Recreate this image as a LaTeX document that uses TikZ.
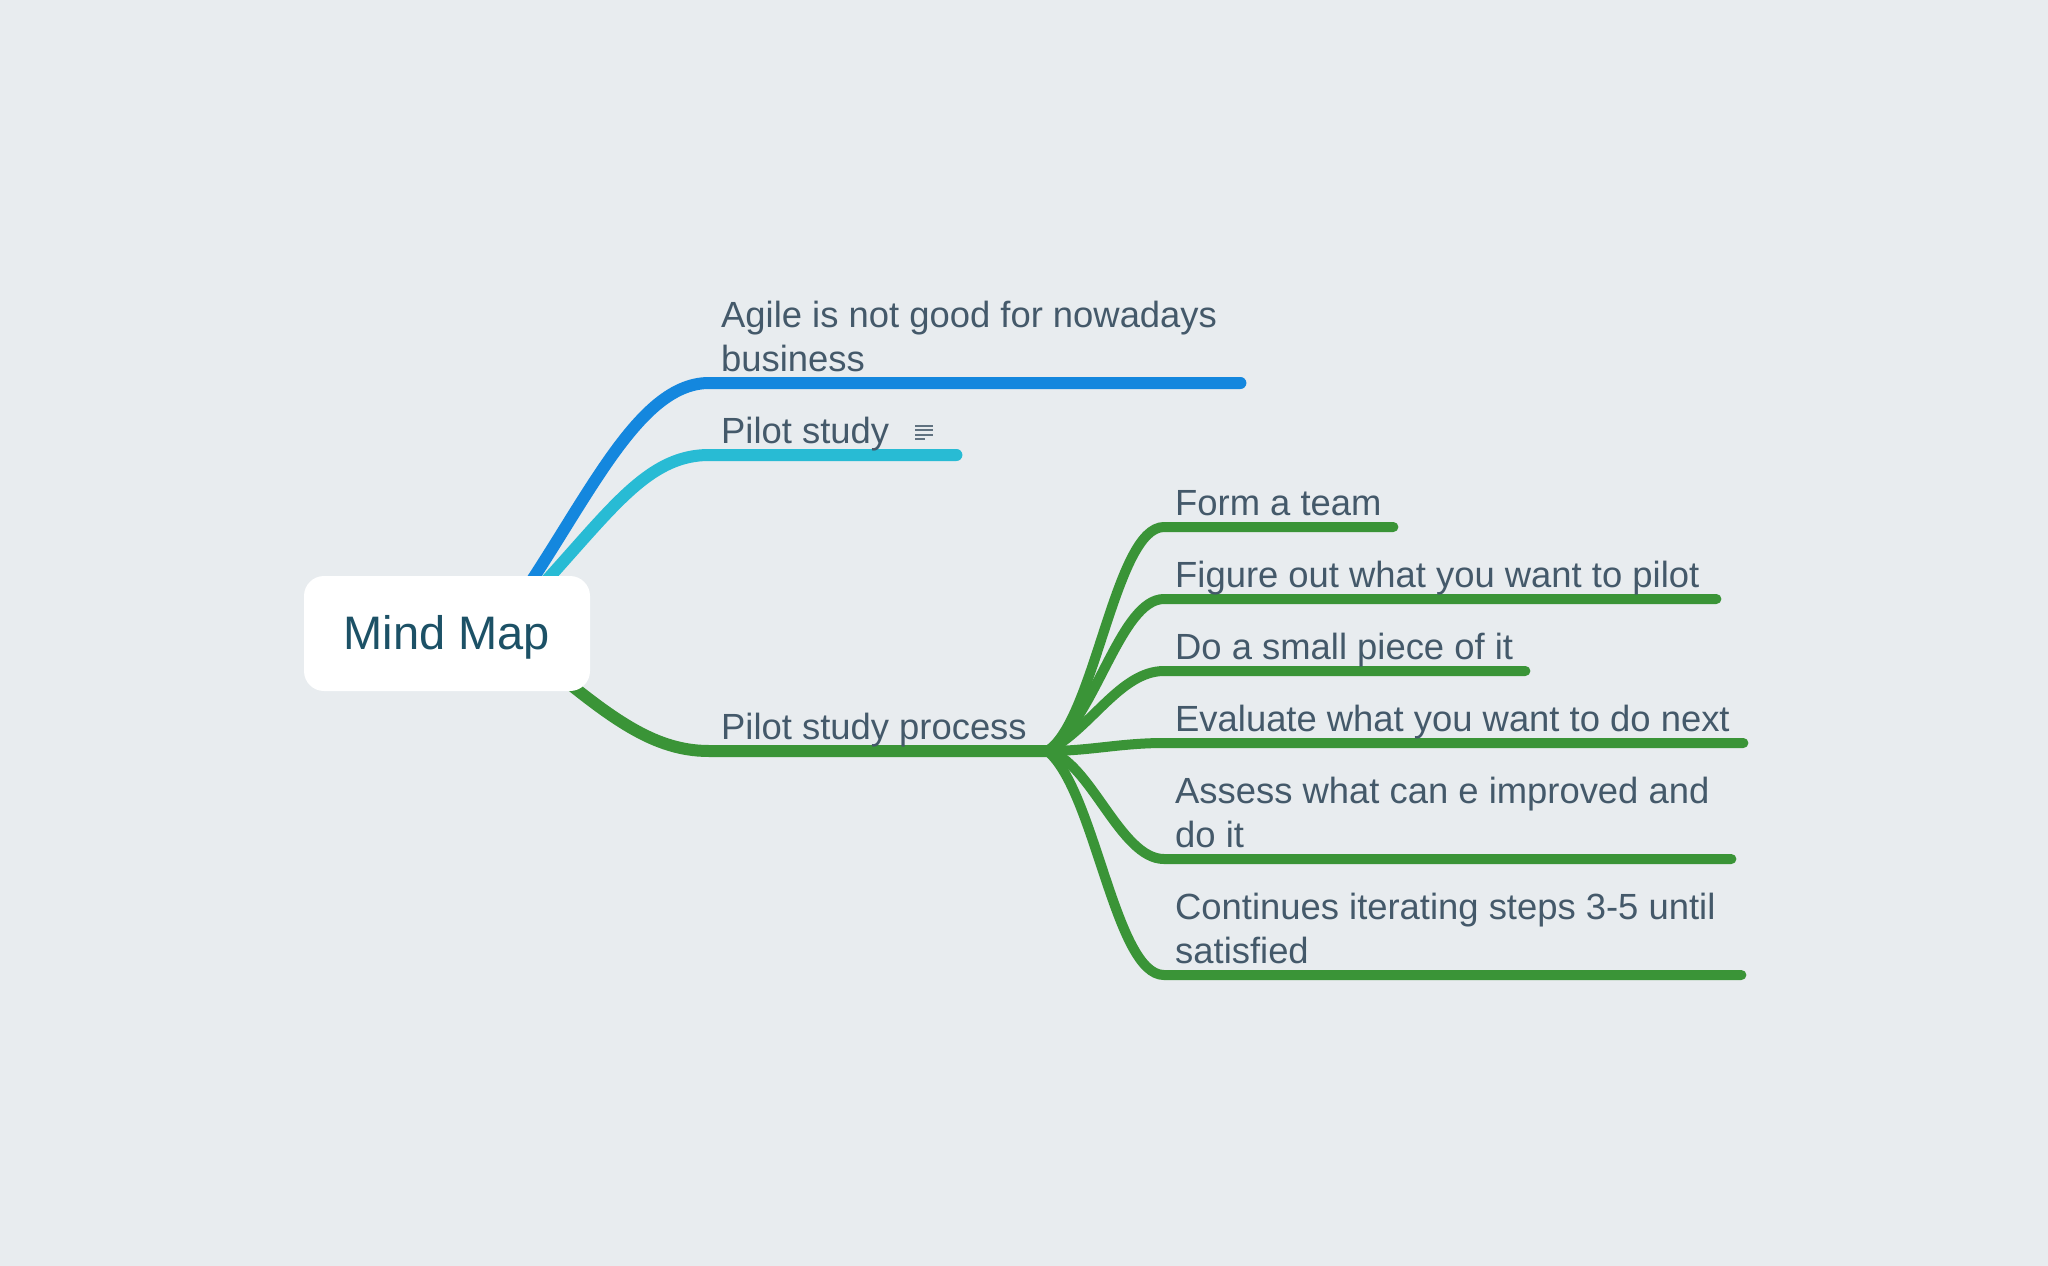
\documentclass[tikz,border=0pt]{standalone}
\usepackage{xcolor}
\usepackage{fontspec}
\setmainfont{Liberation Sans}
\usepackage{tikz}
\usetikzlibrary{backgrounds}
\definecolor{pagegray}{HTML}{E8ECEF}
\definecolor{rootink}{HTML}{1C5166}
\definecolor{topicink}{HTML}{44596A}
\definecolor{agileblue}{HTML}{1487DE}
\definecolor{pilotcyan}{HTML}{28BBD4}
\definecolor{processgreen}{HTML}{3A9437}

\begin{document}
\begin{tikzpicture}[
    x=1pt, y=-1pt,
    rootbox/.style={rectangle, fill=white, rounded corners=20pt, minimum width=286pt, minimum height=115pt, text height=42pt, text depth=10pt, text=rootink, font=\fontsize{47}{52}\selectfont},
    topic/.style={anchor=south west, inner sep=0pt, text depth=11pt, align=flush left, text=topicink, font=\fontsize{36.4}{44}\selectfont},
    twolines/.style={text depth=55pt},
    branch/.style={line width=12pt, line cap=round},
    leaf/.style={line width=10pt, line cap=round, processgreen},
    noteline/.style={line width=1.8pt, topicink!85}
]
    \useasboundingbox (0,0) rectangle (2048,1266);

    % Central topic
    \node [rootbox] (root) at (447,633.5) {Mind Map};

    % Main topics
    \node [topic, twolines, text width=519pt] (agile) at (721,383) {Agile is not good for nowadays\\business};
    \node [topic, text width=235pt] (pilot) at (721,455) {Pilot study};
    \node [topic, text width=326pt] (process) at (721,751) {Pilot study process};

    % Steps of the process
    \node [topic, text width=218pt] (form) at (1175,527) {Form a team};
    \node [topic, text width=541pt] (figure) at ([yshift=-72pt]form.south west) {Figure out what you want to pilot};
    \node [topic, text width=350pt] (small) at ([yshift=-72pt]figure.south west) {Do a small piece of it};
    \node [topic, text width=568pt] (evaluate) at ([yshift=-72pt]small.south west) {Evaluate what you want to do next};
    \node [topic, twolines, text width=556pt] (assess) at ([yshift=-116pt]evaluate.south west) {Assess what can e improved and\\do it};
    \node [topic, twolines, text width=566pt] (continues) at ([yshift=-116pt]assess.south west) {Continues iterating steps 3-5 until\\satisfied};

    % Note icon
    \coordinate (note) at (915,426);
    \foreach \row/\len in {0/18, 4.3/18, 8.6/18, 12.9/10}
        \draw [noteline] ([yshift=-\row pt]note) -- ++(\len,0);

    \begin{scope}[on background layer]
        \fill [pagegray] (0,0) rectangle (2048,1266);

        % Main branches
        \draw [branch, agileblue] ([xshift=48pt]root.center) .. controls (580,520) and (632,383) .. ([xshift=-12pt]agile.south west) -- (agile.south east);
        \draw [branch, pilotcyan] ([xshift=49pt]root.center) .. controls (600,530) and (637,455) .. ([xshift=-12pt]pilot.south west) -- (pilot.south east);
        \draw [branch, processgreen] ([xshift=62pt]root.center) .. controls (600,710) and (647,751) .. ([xshift=-12pt]process.south west) -- (process.south east);

        % Step branches
        \draw [leaf] (process.south east) .. controls (1095,720) and (1115,527) .. ([xshift=-11pt]form.south west) -- (form.south east);
        \draw [leaf] (process.south east) .. controls (1095,720) and (1120,599) .. ([xshift=-11pt]figure.south west) -- (figure.south east);
        \draw [leaf] (process.south east) .. controls (1090,730) and (1120,671) .. ([xshift=-11pt]small.south west) -- (small.south east);
        \draw [leaf] (process.south east) .. controls (1090,751) and (1120,743) .. ([xshift=-11pt]evaluate.south west) -- (evaluate.south east);
        \draw [leaf] (process.south east) .. controls (1090,760) and (1120,859) .. ([xshift=-11pt]assess.south west) -- (assess.south east);
        \draw [leaf] (process.south east) .. controls (1095,790) and (1115,975) .. ([xshift=-11pt]continues.south west) -- (continues.south east);
    \end{scope}
\end{tikzpicture}
\end{document}
